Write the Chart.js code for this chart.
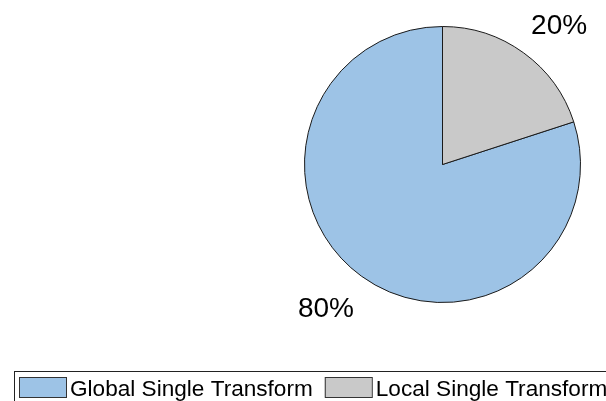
<!DOCTYPE html>
<html>
<head>
<meta charset="utf-8">
<script src="https://cdn.jsdelivr.net/npm/chart.js@4.4.1/dist/chart.umd.min.js"></script>
<style>
  html, body { margin: 0; padding: 0; background: #fff; }
  #wrap { position: relative; width: 606px; height: 401px; }
</style>
</head>
<body>
<div id="wrap"><canvas id="pieChart" width="606" height="401"></canvas></div>
<script>
// data
const categories = ["Global Single Transform", "Local Single Transform"];
const shares = [80, 20];
const sliceColors = ["#9dc3e6", "#c9c9c9"];

const FONT = "'Liberation Sans', Arial, Helvetica, sans-serif";

// percentage labels just outside each slice, corner pointing at the pie
const sliceLabels = {
  id: "sliceLabels",
  afterDatasetsDraw(chart) {
    const ctx = chart.ctx;
    const total = shares.reduce((a, b) => a + b, 0);
    const meta = chart.getDatasetMeta(0);
    ctx.save();
    ctx.font = "28px " + FONT;
    ctx.fillStyle = "#000";
    ctx.textBaseline = "alphabetic";
    meta.data.forEach((arc, i) => {
      const p = arc.getProps(["x", "y", "startAngle", "endAngle", "outerRadius"], true);
      const mid = (p.startAngle + p.endAngle) / 2;
      const r = p.outerRadius + 11;
      const px = p.x + Math.cos(mid) * r;
      const py = p.y + Math.sin(mid) * r;
      const txt = Math.round((shares[i] / total) * 100) + "%";
      const right = Math.cos(mid) > 0;
      const up = Math.sin(mid) < 0;
      ctx.textAlign = right ? "left" : "right";
      ctx.fillText(txt, px + (right ? 1 : -1), up ? py - 10 : py + 32);
    });
    ctx.restore();
  },
};

// boxed legend along the bottom
const boxLegend = {
  id: "boxLegend",
  afterDraw(chart) {
    const ctx = chart.ctx;
    ctx.save();
    ctx.strokeStyle = "#222";
    ctx.lineWidth = 1;
    ctx.strokeRect(14.5, 371.5, 640, 60);
    ctx.font = "22.6px " + FONT;
    ctx.textAlign = "left";
    ctx.textBaseline = "alphabetic";
    let x = 19;
    categories.forEach((name, i) => {
      ctx.fillStyle = sliceColors[i];
      ctx.fillRect(x, 377, 47, 20);
      ctx.strokeStyle = "#333";
      ctx.strokeRect(x + 0.5, 377.5, 47, 20);
      ctx.fillStyle = "#000";
      ctx.fillText(name, x + 51, 396);
      x += 51 + ctx.measureText(name).width + 12;
    });
    ctx.restore();
  },
};

new Chart(document.getElementById("pieChart").getContext("2d"), {
  type: "pie",
  data: {
    labels: categories,
    datasets: [{
      data: shares,
      backgroundColor: sliceColors,
      borderColor: "#1a1a1a",
      borderWidth: 1,
    }],
  },
  options: {
    responsive: false,
    animation: false,
    rotation: 72,
    layout: { padding: { left: 304, top: 26, right: 25, bottom: 98 } },
    plugins: {
      legend: { display: false },
      tooltip: { enabled: false },
    },
  },
  plugins: [sliceLabels, boxLegend],
});
</script>
</body>
</html>
